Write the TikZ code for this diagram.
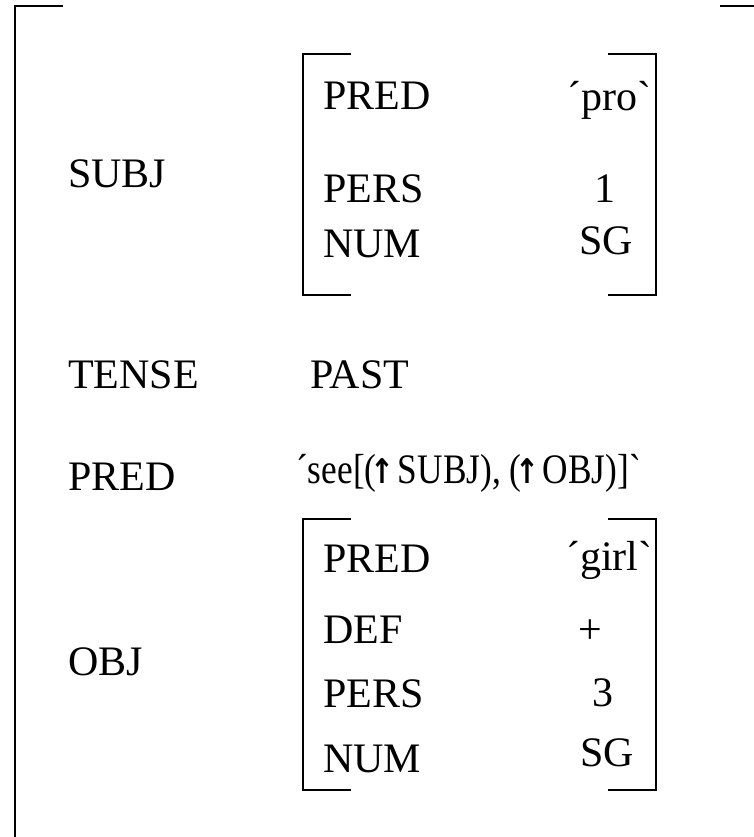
\documentclass[tikz,border=0pt]{standalone}
\usepackage{fontspec}
\usepackage{graphicx}
\setmainfont{Liberation Serif}[Ligatures=TeXOff]
\newfontfamily\arrowfont{DejaVu Sans}
\newcommand{\uparr}{\makebox[15pt][c]{\arrowfont\bfseries\fontsize{34}{40}\selectfont ↑}}
\begin{document}
\begin{tikzpicture}[x=1pt,y=-1pt,
  lbl/.style={anchor=base west,inner sep=0pt,font=\fontsize{42}{50}\selectfont},
  val/.style={anchor=base,inner sep=0pt,font=\fontsize{42}{50}\selectfont},
  outerbr/.style={line width=1.8pt,line cap=butt,line join=miter},
  innerbr/.style={line width=1.4pt,line cap=butt,line join=miter}]
\useasboundingbox (0,0) rectangle (753,837);
% outer bracket
\draw[outerbr] (15,838) -- (15,6) -- (63,6);
\draw[outerbr] (720,6) -- (754,6);
% outer attributes
\node[lbl] (subj) at (68,187) {SUBJ};
\node[lbl] (tense) at (68,388) {TENSE};
\node[lbl] (past) at (310,388) {PAST};
\node[lbl] (pred) at (68,490) {PRED};
\node[lbl] (see) at (296,483) {\scalebox{0.84}[1]{´see[(\uparr\ SUBJ), (\uparr\ OBJ)]`}};
\node[lbl] (obj) at (68,675) {OBJ};
% SUBJ f-structure
\draw[innerbr] (351,54) -- (303,54) -- (303,295) -- (351,295);
\draw[innerbr] (608,54) -- (656,54) -- (656,295) -- (608,295);
\node[lbl] (spred) at (323,110) {PRED};
\node[lbl] (spredv) at (567,111) {´pro`};
\node[lbl] (spers) at (323,202) {PERS};
\node[val] (spersv) at (605,202) {1};
\node[lbl] (snum) at (323,257) {NUM};
\node[val] (snumv) at (606,254) {SG};
% OBJ f-structure
\draw[innerbr] (351,519) -- (303,519) -- (303,790) -- (351,790);
\draw[innerbr] (608,519) -- (656,519) -- (656,790) -- (608,790);
\node[lbl] (opred) at (323,572) {PRED};
\node[lbl] (opredv) at (566,570) {´girl`};
\node[lbl] (odef) at (323,643) {DEF};
\node[val] (odefv) at (590,643) {+};
\node[lbl] (opers) at (323,707) {PERS};
\node[val] (opersv) at (603,706) {3};
\node[lbl] (onum) at (323,772) {NUM};
\node[val] (onumv) at (607,766) {SG};
\end{tikzpicture}
\end{document}
